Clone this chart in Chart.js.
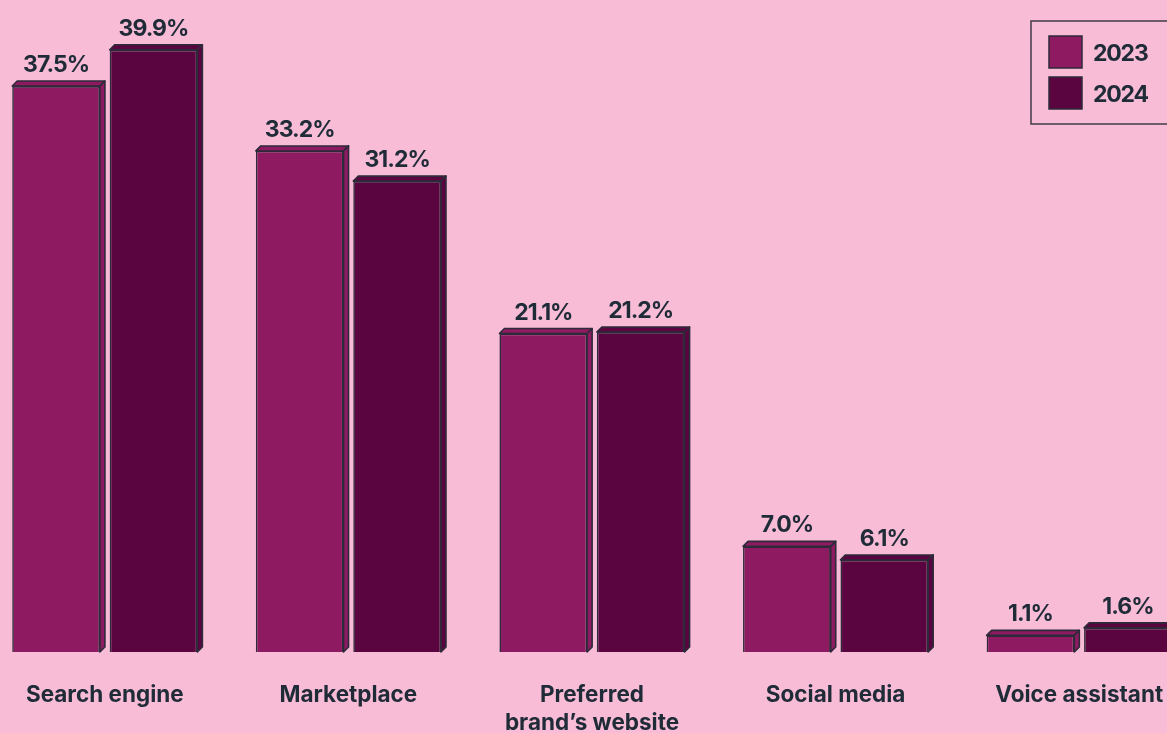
<!DOCTYPE html>
<html>
<head>
	<meta charset="UTF-8">
	<title>chartjs</title>
	<script src="https://cdn.jsdelivr.net/npm/chart.js"></script>
	<style>
	html, body{margin:0; padding:0; background:#f8bcd7; overflow:hidden;}
	#wrap{position:absolute; left:-17px; top:0; width:1218px; height:733px;}
	</style>
</head>
<body>
	<div id="wrap">
	  <canvas id="myChart"></canvas>
	</div>
	<script>
	// data
	var categories = ['Search engine', 'Marketplace', ['Preferred', 'brand\u2019s website'], 'Social media', 'Voice assistant'];
	var years = ['2023', '2024'];
	var values2023 = [37.5, 33.2, 21.1, 7.0, 1.1];
	var values2024 = [39.9, 31.2, 21.2, 6.1, 1.6];

	var colors = ['#8e1a62', '#5a0440'];
	var edge = '#2d2a3a';
	var textColor = '#1f2b37';
	var fontFamily = 'Inter, "Noto Sans", sans-serif';
	var depth = 5;
	var shift = 17; // canvas is moved left by this much

	// 3d faces + value labels + legend box
	var boxPlugin = {
		id: 'box3d',
		afterDatasetsDraw: function(chart){
			var ctx = chart.ctx;
			chart.data.datasets.forEach(function(ds, i){
				var meta = chart.getDatasetMeta(i);
				meta.data.forEach(function(bar, j){
					var l = bar.x - bar.width / 2, r = bar.x + bar.width / 2;
					var t = bar.y, b = bar.base;
					ctx.save();
					ctx.lineWidth = 1.6;
					ctx.strokeStyle = edge;
					ctx.lineJoin = 'round';
					// top
					ctx.beginPath();
					ctx.moveTo(l, t);
					ctx.lineTo(l + depth, t - depth);
					ctx.lineTo(r + depth, t - depth);
					ctx.lineTo(r, t);
					ctx.closePath();
					ctx.fillStyle = ds.backgroundColor;
					ctx.fill();
					ctx.stroke();
					// side
					ctx.beginPath();
					ctx.moveTo(r, t);
					ctx.lineTo(r + depth, t - depth);
					ctx.lineTo(r + depth, b - depth);
					ctx.lineTo(r, b);
					ctx.closePath();
					ctx.fill();
					ctx.stroke();
					// value
					ctx.fillStyle = textColor;
					ctx.font = 'bold 23px ' + fontFamily;
					ctx.letterSpacing = '-1px';
					ctx.textAlign = 'center';
					ctx.textBaseline = 'alphabetic';
					ctx.fillText(ds.data[j].toFixed(1) + '%', bar.x, t - depth - 9);
					ctx.restore();
				});
			});

			// legend
			ctx.save();
			var bx = 1031 + shift, by = 21;
			ctx.lineWidth = 1.6;
			ctx.strokeStyle = '#4b4452';
			ctx.strokeRect(bx, by, 200, 103);
			chart.data.datasets.forEach(function(ds, i){
				var sy = 36 + i * 41;
				ctx.fillStyle = ds.backgroundColor;
				ctx.fillRect(1049 + shift, sy, 33, 32);
				ctx.strokeStyle = edge;
				ctx.lineWidth = 1.5;
				ctx.strokeRect(1049 + shift, sy, 33, 32);
				ctx.fillStyle = textColor;
				ctx.font = 'bold 23px ' + fontFamily;
				ctx.letterSpacing = '-1.2px';
				ctx.textAlign = 'left';
				ctx.textBaseline = 'alphabetic';
				ctx.fillText(ds.label, 1093 + shift, 61 + i * 41);
			});
			ctx.restore();
		}
	};

	const ctx = document.getElementById('myChart');
	new Chart(ctx, {
		type: 'bar',
		data: {
			labels: categories,
			datasets: [{
				label: years[0],
				data: values2023,
				backgroundColor: colors[0],
				borderColor: edge,
				borderWidth: 1.6,
				categoryPercentage: 0.8,
				barPercentage: 0.9
			}, {
				label: years[1],
				data: values2024,
				backgroundColor: colors[1],
				borderColor: edge,
				borderWidth: 1.6,
				categoryPercentage: 0.8,
				barPercentage: 0.9
			}]
		},
		options: {
			responsive: true,
			maintainAspectRatio: false,
			animation: false,
			layout: { padding: 0 },
			plugins: {
				legend: { display: false },
				tooltip: { enabled: false }
			},
			scales: {
				x: {
					grid: { display: false, drawTicks: false, tickLength: 0 },
					border: { display: false },
					ticks: {
						color: textColor,
						font: { family: fontFamily, size: 22.5, weight: 'bold', lineHeight: 1.22 },
						padding: 30,
						maxRotation: 0,
						autoSkip: false
					},
					afterFit: function(scale){ scale.height = 81; }
				},
				y: {
					display: false,
					min: 0,
					max: 43.2
				}
			}
		},
		plugins: [boxPlugin]
	});
	</script>
</body>
</html>
